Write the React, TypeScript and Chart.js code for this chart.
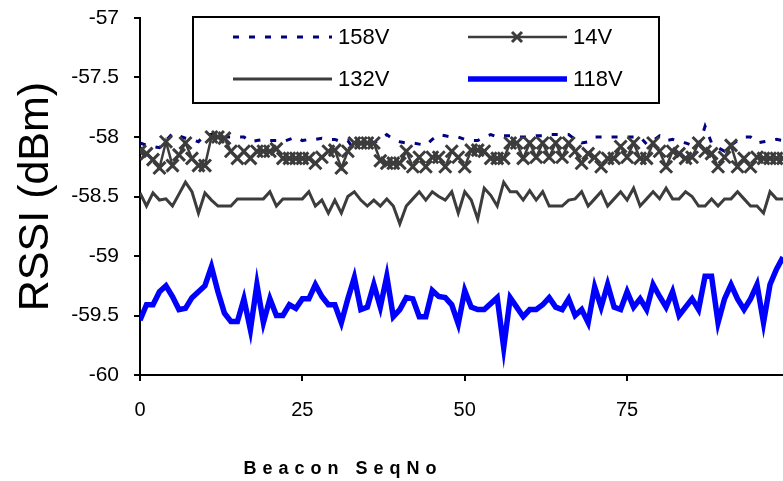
import React, { useEffect, useRef } from "react";
import { Chart, registerables } from "chart.js";

Chart.register(...registerables);

const seriesLabels = ["158V", "14V", "132V", "118V"];
const xTickValues = [0, 25, 50, 75];
const yTickStep = 0.5;

const v158 = [
  -58.05, -58.07, -58.08, -58.09, -58.03, -57.97, -57.99, -58.01, -58.02, -58.04,
  -57.98, -57.98, -57.98, -58.0, -58.0, -58.0, -58.0, -58.04, -58.03, -58.02,
  -58.03, -58.03, -58.04, -58.02, -58.0, -58.03, -58.02, -58.02, -58.01, -58.02,
  -58.02, -58.04, -58.03, -58.11, -58.05, -58.05, -58.05, -58.02, -57.98, -58.02,
  -58.04, -58.05, -58.05, -58.06, -58.07, -58.02, -57.98, -57.99, -58.0, -58.0,
  -58.02, -58.03, -58.03, -58.0, -57.98, -58.0, -57.99, -57.99, -58.0, -58.0,
  -58.0, -57.99, -57.99, -57.98, -57.98, -57.98, -57.98, -58.02, -58.05, -58.04,
  -58.0, -58.0, -58.0, -58.0, -58.0, -58.0, -58.0, -58.0, -58.06, -58.03,
  -57.99, -58.03, -58.02, -58.04, -58.05, -58.07, -58.08, -57.91, -58.05, -58.09,
  -58.12, -58.07, -58.03, -58.0, -58.0, -58.05, -58.04, -58.03, -58.02, -58.03,
];

const v14 = [
  -58.12, -58.14, -58.19, -58.26, -58.04, -58.24, -58.15, -58.05, -58.18, -58.24,
  -58.24, -58.0, -58.0, -58.01, -58.12, -58.18, -58.12, -58.18, -58.12, -58.12,
  -58.12, -58.1, -58.18, -58.18, -58.18, -58.18, -58.18, -58.22, -58.17, -58.12,
  -58.11, -58.26, -58.12, -58.05, -58.05, -58.05, -58.05, -58.2, -58.22, -58.22,
  -58.22, -58.12, -58.25, -58.17, -58.25, -58.17, -58.17, -58.25, -58.12, -58.17,
  -58.25, -58.11, -58.11, -58.12, -58.18, -58.18, -58.18, -58.05, -58.05, -58.18,
  -58.05, -58.17, -58.05, -58.17, -58.05, -58.17, -58.05, -58.12, -58.22, -58.14,
  -58.17, -58.25, -58.18, -58.18, -58.08, -58.17, -58.05, -58.18, -58.18, -58.05,
  -58.12, -58.25, -58.12, -58.14, -58.18, -58.17, -58.05, -58.12, -58.14, -58.25,
  -58.17, -58.07, -58.25, -58.18, -58.25, -58.17, -58.18, -58.18, -58.18, -58.18,
];

const v132 = [
  -58.47, -58.58, -58.47, -58.53, -58.52, -58.58, -58.48, -58.38, -58.46, -58.64,
  -58.47, -58.53, -58.58, -58.58, -58.58, -58.52, -58.52, -58.52, -58.52, -58.52,
  -58.46, -58.58, -58.52, -58.52, -58.52, -58.52, -58.46, -58.58, -58.53, -58.64,
  -58.53, -58.64, -58.5, -58.46, -58.53, -58.58, -58.53, -58.58, -58.52, -58.58,
  -58.73, -58.58, -58.52, -58.46, -58.53, -58.46, -58.5, -58.53, -58.46, -58.64,
  -58.46, -58.53, -58.69, -58.43, -58.49, -58.58, -58.38, -58.46, -58.46, -58.53,
  -58.45, -58.53, -58.46, -58.58, -58.58, -58.58, -58.53, -58.52, -58.46, -58.58,
  -58.52, -58.46, -58.58, -58.52, -58.46, -58.53, -58.43, -58.58, -58.52, -58.46,
  -58.52, -58.43, -58.52, -58.52, -58.46, -58.5, -58.58, -58.58, -58.52, -58.58,
  -58.52, -58.52, -58.46, -58.52, -58.58, -58.58, -58.64, -58.46, -58.52, -58.52,
];

const v118 = [
  -59.54, -59.41, -59.41, -59.3, -59.25, -59.34, -59.45, -59.44, -59.35, -59.3,
  -59.25, -59.09, -59.3, -59.48, -59.55, -59.55, -59.36, -59.62, -59.24, -59.56,
  -59.36, -59.5, -59.5, -59.41, -59.44, -59.36, -59.36, -59.24, -59.34, -59.41,
  -59.41, -59.56, -59.36, -59.18, -59.45, -59.43, -59.24, -59.43, -59.17, -59.51,
  -59.45, -59.35, -59.36, -59.51, -59.51, -59.29, -59.34, -59.35, -59.41, -59.57,
  -59.29, -59.43, -59.45, -59.45, -59.4, -59.35, -59.77, -59.35, -59.43, -59.51,
  -59.45, -59.45, -59.41, -59.35, -59.43, -59.45, -59.36, -59.5, -59.45, -59.56,
  -59.26, -59.43, -59.24, -59.43, -59.45, -59.3, -59.43, -59.36, -59.45, -59.24,
  -59.34, -59.43, -59.3, -59.5, -59.43, -59.36, -59.45, -59.17, -59.17, -59.56,
  -59.36, -59.24, -59.36, -59.45, -59.36, -59.24, -59.56, -59.24, -59.11, -59.01,
];

const toPoints = (arr: number[]) => arr.map((y, i) => ({ x: i, y }));

const FONT = "'Liberation Sans', Arial, sans-serif";

const boxLegend = {
  id: "boxLegend",
  afterDraw(chart: any) {
    const { ctx, chartArea } = chart;
    const x0 = chartArea.left + 53;
    const y0 = chartArea.top - 1;
    const w = 466;
    const h = 86;
    ctx.save();
    ctx.fillStyle = "#fff";
    ctx.fillRect(x0, y0, w, h);
    ctx.strokeStyle = "#000";
    ctx.lineWidth = 2;
    ctx.strokeRect(x0, y0, w, h);
    const slots = [
      [40, 20],
      [275, 20],
      [40, 62],
      [275, 62],
    ];
    chart.data.datasets.forEach((ds: any, i: number) => {
      const [cx, cy] = slots[i];
      const lx = x0 + cx;
      const ly = y0 + cy;
      ctx.save();
      ctx.strokeStyle = ds.borderColor;
      ctx.lineWidth = ds.borderWidth;
      ctx.setLineDash(ds.borderDash || []);
      ctx.beginPath();
      ctx.moveTo(lx, ly);
      ctx.lineTo(lx + 99, ly);
      ctx.stroke();
      ctx.setLineDash([]);
      if (ds.pointStyle === "crossRot" && ds.pointRadius > 0) {
        const r = 5;
        const mx = lx + 49;
        ctx.strokeStyle = ds.pointBorderColor;
        ctx.lineWidth = ds.pointBorderWidth;
        ctx.beginPath();
        ctx.moveTo(mx - r, ly - r);
        ctx.lineTo(mx + r, ly + r);
        ctx.moveTo(mx - r, ly + r);
        ctx.lineTo(mx + r, ly - r);
        ctx.stroke();
      }
      ctx.restore();
      ctx.fillStyle = "#000";
      ctx.font = `22px ${FONT}`;
      ctx.textAlign = "left";
      ctx.textBaseline = "middle";
      ctx.fillText(ds.label, lx + 105, ly + 1);
    });
    ctx.restore();
  },
};

const xTitle = {
  id: "xTitle",
  afterDraw(chart: any) {
    const { ctx, chartArea } = chart;
    ctx.save();
    ctx.fillStyle = "#000";
    ctx.font = `bold 18px ${FONT}`;
    (ctx as any).letterSpacing = "6px";
    ctx.textAlign = "center";
    ctx.textBaseline = "middle";
    ctx.fillText("Beacon SeqNo", chartArea.left + 203, chartArea.bottom + 94);
    ctx.restore();
  },
};

export default function App() {
  const ref = useRef<HTMLCanvasElement | null>(null);

  useEffect(() => {
    if (!ref.current) return;
    const chart = new Chart(ref.current, {
      type: "line",
      data: {
        datasets: [
          {
            label: seriesLabels[0],
            data: toPoints(v158),
            borderColor: "#000080",
            borderWidth: 3,
            borderDash: [6, 10],
            pointRadius: 0,
            order: 4,
          },
          {
            label: seriesLabels[1],
            data: toPoints(v14),
            borderColor: "#3c3c3c",
            borderWidth: 2.5,
            pointStyle: "crossRot",
            pointRadius: 8.5,
            pointBorderWidth: 3,
            pointBorderColor: "#3c3c3c",
            pointBackgroundColor: "#3c3c3c",
            order: 3,
          },
          {
            label: seriesLabels[2],
            data: toPoints(v132),
            borderColor: "#3c3c3c",
            borderWidth: 3,
            pointRadius: 0,
            order: 2,
          },
          {
            label: seriesLabels[3],
            data: toPoints(v118),
            borderColor: "#0000ff",
            borderWidth: 5.5,
            pointRadius: 0,
            order: 1,
          },
        ] as any,
      },
      options: {
        responsive: false,
        animation: false,
        events: [],
        layout: { autoPadding: false, padding: { top: 18, right: 0, bottom: 0, left: 0 } },
        elements: { line: { tension: 0 } },
        plugins: {
          legend: { display: false },
          tooltip: { enabled: false },
        },
        scales: {
          x: {
            type: "linear",
            min: 0,
            max: 99,
            afterBuildTicks: (scale: any) => {
              scale.ticks = xTickValues.map((v) => ({ value: v }));
            },
            afterFit: (scale: any) => {
              scale.height = 106;
              scale.paddingLeft = 0;
              scale.paddingRight = 0;
            },
            border: { color: "#000", width: 2 },
            grid: {
              display: true,
              drawOnChartArea: false,
              drawTicks: true,
              tickLength: 6,
              color: "#000",
              lineWidth: 2,
            },
            ticks: {
              color: "#000",
              font: { family: FONT, size: 20 },
              padding: 17,
              maxRotation: 0,
            },
          },
          y: {
            type: "linear",
            min: -60,
            max: -57,
            afterFit: (scale: any) => {
              scale.width = 140;
              scale.paddingTop = 0;
              scale.paddingBottom = 0;
            },
            border: { color: "#000", width: 2 },
            grid: {
              display: true,
              drawOnChartArea: false,
              drawTicks: true,
              tickLength: 6,
              color: "#000",
              lineWidth: 2,
            },
            ticks: {
              stepSize: yTickStep,
              color: "#000",
              font: { family: FONT, size: 21 },
              padding: 15,
              callback: (v: any) => `${Number(v)}`,
            },
            title: {
              display: true,
              text: "RSSI (dBm)",
              color: "#000",
              font: { family: FONT, size: 43 },
              padding: { top: 10, bottom: 0 },
            },
          },
        },
      },
      plugins: [boxLegend, xTitle],
    });
    return () => chart.destroy();
  }, []);

  return (
    <div style={{ position: "absolute", left: 0, top: 0, width: 783, height: 481, background: "#fff" }}>
      <canvas ref={ref} width={783} height={481} style={{ display: "block" }} />
    </div>
  );
}
